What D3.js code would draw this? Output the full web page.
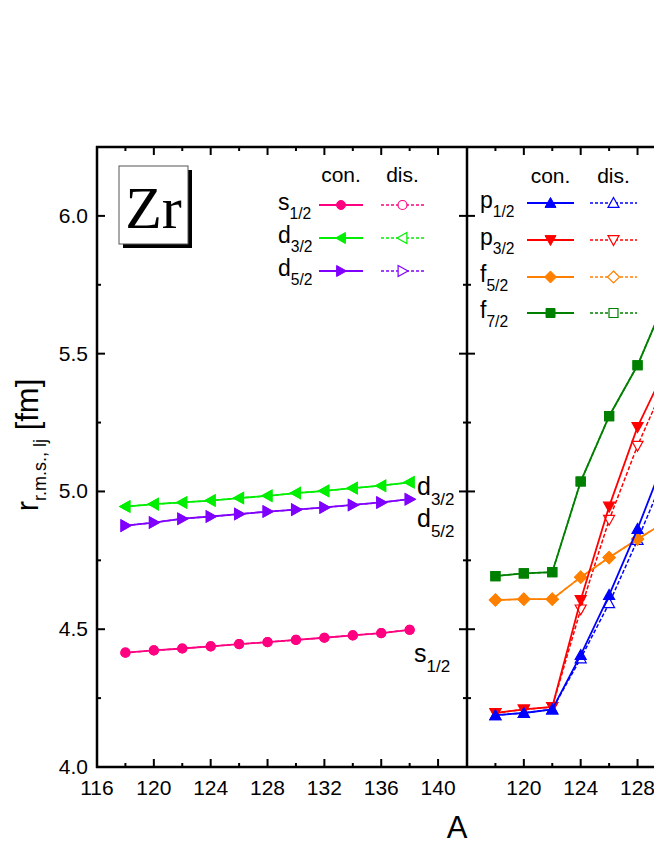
<!DOCTYPE html>
<html><head><meta charset="utf-8">
<script src="https://cdn.jsdelivr.net/npm/d3@7"></script>
<style>body{margin:0;background:#fff}text{font-family:Arial,"Liberation Sans",sans-serif}</style>
</head><body>
<script>
// data
var aLeft = [118,120,122,124,126,128,130,132,134,136,138];
var s12 = [4.415,4.423,4.430,4.438,4.446,4.453,4.461,4.469,4.478,4.486,4.498];
var d32 = [4.945,4.954,4.960,4.967,4.976,4.984,4.994,5.002,5.012,5.021,5.033];
var d52 = [4.876,4.887,4.901,4.909,4.918,4.927,4.934,4.942,4.951,4.960,4.972];
var aRight = [118,120,122,124,126,128,130];
var p12con = [4.188,4.196,4.209,4.406,4.624,4.864,5.13];
var p12dis = [4.188,4.196,4.209,4.394,4.594,4.824,5.07];
var p32con = [4.196,4.209,4.218,4.606,4.945,5.234,5.45];
var p32dis = [4.196,4.209,4.218,4.572,4.897,5.166,5.40];
var f52con = [4.606,4.609,4.609,4.689,4.760,4.827,4.89];
var f52dis = [4.606,4.609,4.609,4.689,4.760,4.827,4.89];
var f72con = [4.693,4.703,4.707,5.036,5.273,5.458,5.70];
var f72dis = [4.693,4.703,4.707,5.036,5.273,5.458,5.70];
var xTicks = [116,120,124,128,132,136,140];
var yTicks = [4.0,4.5,5.0,5.5,6.0];

(function(){
var svg = d3.select("body").append("svg").attr("width",654).attr("height",846);
var yTop = 147, yBot = 767;
var y = d3.scaleLinear().domain([4.0,6.25]).range([yBot,yTop]);
var xL = d3.scaleLinear().domain([116,142]).range([97,466.5]);
var xR = d3.scaleLinear().domain([116,142]).range([467,836.5]);

svg.append("clipPath").attr("id","cl").append("rect").attr("x",97).attr("y",yTop).attr("width",370).attr("height",yBot-yTop);
svg.append("clipPath").attr("id","cr").append("rect").attr("x",467).attr("y",yTop).attr("width",200).attr("height",yBot-yTop);

function shape(dir){
  var r=5.5;
  if(dir=="up") return "M0,"+(-r)+"L"+r+","+(r*0.8)+"L"+(-r)+","+(r*0.8)+"Z";
  if(dir=="down") return "M0,"+r+"L"+r+","+(-r*0.8)+"L"+(-r)+","+(-r*0.8)+"Z";
  if(dir=="left") return "M"+(-r)+",0L"+(r*0.8)+","+(-r)+"L"+(r*0.8)+","+r+"Z";
  if(dir=="right") return "M"+r+",0L"+(-r*0.8)+","+(-r)+"L"+(-r*0.8)+","+r+"Z";
  if(dir=="circle") return "M4.5,0A4.5,4.5 0 1 1 -4.5,0A4.5,4.5 0 1 1 4.5,0Z";
  if(dir=="diamond") return "M0,-6L6,0L0,6L-6,0Z";
  if(dir=="square") return "M-4.5,-4.5H4.5V4.5H-4.5Z";
}

function series(g, x, xs, ys, color, sh, dashed){
  var line = d3.line().x(function(d,i){return x(xs[i]);}).y(function(d){return y(d);});
  g.append("path").attr("d",line(ys)).attr("fill","none").attr("stroke",color)
    .attr("stroke-width",dashed?1.5:1.8).attr("stroke-dasharray",dashed?"4,2":null);
  g.selectAll(null).data(ys).enter().append("path")
    .attr("transform",function(d,i){return "translate("+x(xs[i])+","+y(d)+")";})
    .attr("d",shape(sh)).attr("fill",dashed?"#fff":color).attr("stroke",color).attr("stroke-width",1.2);
}

var gL = svg.append("g").attr("clip-path","url(#cl)");
series(gL,xL,aLeft,s12,"#ff0080","circle",true);
series(gL,xL,aLeft,d32,"#00ee00","left",true);
series(gL,xL,aLeft,d52,"#8000ff","right",true);
series(gL,xL,aLeft,s12,"#ff0080","circle",false);
series(gL,xL,aLeft,d32,"#00ee00","left",false);
series(gL,xL,aLeft,d52,"#8000ff","right",false);

var gR = svg.append("g").attr("clip-path","url(#cr)");
series(gR,xR,aRight,f72dis,"#008000","square",true);
series(gR,xR,aRight,f52dis,"#ff8000","diamond",true);
series(gR,xR,aRight,p32dis,"#ff0000","down",true);
series(gR,xR,aRight,p12dis,"#0000ff","up",true);
series(gR,xR,aRight,f72con,"#008000","square",false);
series(gR,xR,aRight,f52con,"#ff8000","diamond",false);
series(gR,xR,aRight,p32con,"#ff0000","down",false);
series(gR,xR,aRight,p12con,"#0000ff","up",false);

// frames & ticks
var minor = d3.range(116,152,2), yMinor = d3.range(4.0,6.26,0.25);
function axes(x, xa, xb){
  var g = svg.append("g").attr("stroke","#000");
  g.append("line").attr("x1",xa).attr("x2",xb).attr("y1",yTop).attr("y2",yTop).attr("stroke-width",2.5);
  g.append("line").attr("x1",xa).attr("x2",xb).attr("y1",yBot).attr("y2",yBot).attr("stroke-width",2.5);
  minor.filter(function(v){return x(v)>=xa+2&&x(v)<=xb-2;}).forEach(function(v){
    var L = (v%4==0)?8:4;
    g.append("line").attr("x1",x(v)).attr("x2",x(v)).attr("y1",yBot).attr("y2",yBot-L).attr("stroke-width",2);
    g.append("line").attr("x1",x(v)).attr("x2",x(v)).attr("y1",yTop).attr("y2",yTop+L).attr("stroke-width",2);
  });
}
axes(xL,96,467); axes(xR,467,654);
var gy = svg.append("g").attr("stroke","#000");
[97,467].forEach(function(xx){ gy.append("line").attr("x1",xx).attr("x2",xx).attr("y1",yTop-1).attr("y2",yBot+1).attr("stroke-width",2.5); });
yMinor.forEach(function(v){
  var L = (Math.round(v*100)%50==0)?8:4;
  gy.append("line").attr("x1",97).attr("x2",97+L).attr("y1",y(v)).attr("y2",y(v)).attr("stroke-width",2);
  gy.append("line").attr("x1",467-L).attr("x2",467+L).attr("y1",y(v)).attr("y2",y(v)).attr("stroke-width",2);
});

// tick labels
svg.selectAll(null).data(xTicks).enter().append("text").attr("x",function(d){return xL(d);}).attr("y",795)
  .attr("text-anchor","middle").attr("font-size",21).text(function(d){return d;});
svg.selectAll(null).data(xTicks.filter(function(d){return xR(d)>480&&xR(d)<660;})).enter().append("text")
  .attr("x",function(d){return xR(d);}).attr("y",795).attr("text-anchor","middle").attr("font-size",21).text(function(d){return d;});
svg.selectAll(null).data(yTicks).enter().append("text").attr("x",88).attr("y",function(d){return y(d)+7;})
  .attr("text-anchor","end").attr("font-size",21).text(function(d){return d.toFixed(1);});

svg.append("text").attr("x",457).attr("y",838).attr("text-anchor","middle").attr("font-size",31).text("A");
var yt = svg.append("text").attr("transform","translate(38,445) rotate(-90)").attr("text-anchor","middle").attr("font-size",31);
yt.append("tspan").text("r");
yt.append("tspan").attr("font-size",18).attr("dy",8).text("r.m.s., lj");
yt.append("tspan").attr("dy",-8).text("  [fm]");

// Zr box
svg.append("rect").attr("x",123).attr("y",170).attr("width",69).attr("height",78).attr("fill","#000");
svg.append("rect").attr("x",119).attr("y",166).attr("width",69).attr("height",78).attr("fill","#fff").attr("stroke","#555").attr("stroke-width",1);
svg.append("text").attr("x",153.5).attr("y",228).attr("text-anchor","middle").attr("font-size",60)
  .style("font-family","'Liberation Serif',serif").text("Zr");

function sub(x0,y0,main,s,size){
  var t = svg.append("text").attr("x",x0).attr("y",y0).attr("font-size",size);
  t.append("tspan").text(main);
  t.append("tspan").attr("font-size",size*0.68).attr("dy",size*0.4).text(s);
}
function legend(items, lx, c0, c1, d0, d1, rows, hy){
  svg.append("text").attr("x",(c0+c1)/2).attr("y",hy).attr("text-anchor","middle").attr("font-size",21).text("con.");
  svg.append("text").attr("x",(d0+d1)/2).attr("y",hy).attr("text-anchor","middle").attr("font-size",21).text("dis.");
  items.forEach(function(it,i){
    var yy = rows[i];
    sub(lx,yy+5,it[0],it[1],23);
    svg.append("line").attr("x1",c0).attr("x2",c1).attr("y1",yy).attr("y2",yy).attr("stroke",it[2]).attr("stroke-width",1.8);
    svg.append("path").attr("transform","translate("+(c0+c1)/2+","+yy+")").attr("d",shape(it[3])).attr("fill",it[2]).attr("stroke",it[2]);
    svg.append("line").attr("x1",d0).attr("x2",d1).attr("y1",yy).attr("y2",yy).attr("stroke",it[2]).attr("stroke-width",1.5).attr("stroke-dasharray","3,2");
    svg.append("path").attr("transform","translate("+(d0+d1)/2+","+yy+")").attr("d",shape(it[3])).attr("fill","#fff").attr("stroke",it[2]).attr("stroke-width",1.2);
  });
}
legend([["s","1/2","#ff0080","circle"],["d","3/2","#00ee00","left"],["d","5/2","#8000ff","right"]],
  278,319,363,381,424,[205,238,271],182);
legend([["p","1/2","#0000ff","up"],["p","3/2","#ff0000","down"],["f","5/2","#ff8000","diamond"],["f","7/2","#008000","square"]],
  480,527,574,590,637,[203,240,277,313],183);

sub(417,495,"d","3/2",25);
sub(417,527,"d","5/2",25);
sub(414,662,"s","1/2",25);
})();
</script>
</body></html>
